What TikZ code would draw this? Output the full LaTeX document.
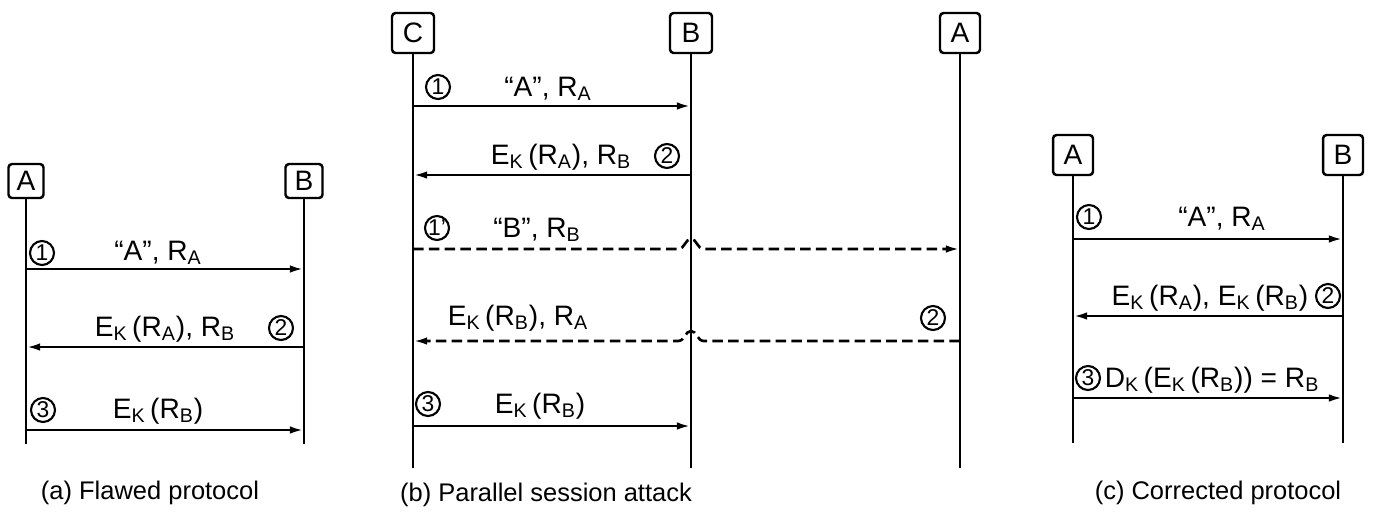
\documentclass[tikz,border=0pt]{standalone}
\usepackage{fontspec}
\setmainfont{Liberation Sans}
\usetikzlibrary{arrows.meta, calc}

\newcommand{\Ek}[1]{E\textsubscript{K}\,(R\textsubscript{#1})}
\newcommand{\Rsub}[1]{R\textsubscript{#1}}

\tikzset{
  party/.style={draw, line width=1.4pt, rounded corners=2pt, inner sep=0pt,
    minimum width=0.8cm, minimum height=0.8cm, font=\fontsize{16}{18}\selectfont},
  life/.style={line width=1.5pt},
  msg/.style={line width=1.5pt, -{Latex[length=8pt,width=4.2pt]}},
  fake/.style={msg, dash pattern=on 6pt off 3pt},
  num/.style={circle, draw, line width=1.2pt, inner sep=0pt,
    minimum size=0.48cm, font=\fontsize{13}{14}\selectfont},
  lbl/.style={font=\fontsize{16}{18}\selectfont, inner sep=1pt},
  capt/.style={font=\fontsize{14.5}{17}\selectfont}
}

\begin{document}
\begin{tikzpicture}[x=0.02cm, y=-0.02cm]
\useasboundingbox (0,0) rectangle (1375,512);

% (a) flawed protocol
\node[party, minimum width=0.7cm, minimum height=0.68cm] (aA) at (26,181) {A};
\node[party, minimum width=0.74cm, minimum height=0.68cm] (aB) at (304,181) {B};
\coordinate (aEnd) at (0,444);
\draw[life] (aA) -- (aA |- aEnd);
\draw[life] (aB) -- (aB |- aEnd);
\foreach \n/\y in {1/269, 2/347, 3/430} \coordinate (ar\n) at (0,\y);
\draw[msg] (aA |- ar1) -- (aB |- ar1);
\draw[msg] (aB |- ar2) -- (aA |- ar2);
\draw[msg] (aA |- ar3) -- (aB |- ar3);
\node[num] (an1) at (42,253) {1};
\node[lbl] (at1) at (158,253) {“A”, \Rsub{A}};
\node[num] (an2) at (281,328) {2};
\node[lbl] (at2) at (165,329) {\Ek{A}, \Rsub{B}};
\node[num] (an3) at (43,410) {3};
\node[lbl] (at3) at (158,411) {\Ek{B}};
\node[capt] (acap) at (150,493) {(a) Flawed protocol};

% (b) parallel session attack
\node[party, minimum width=0.84cm] (bC) at (413,33) {C};
\node[party, minimum width=0.84cm] (bB) at (691,33) {B};
\node[party] (bA) at (960,33) {A};
\coordinate (bEnd) at (0,468);
\draw[life] (bC) -- (bC |- bEnd);
\draw[life] (bB) -- (bB |- bEnd);
\draw[life] (bA) -- (bA |- bEnd);
\foreach \n/\y in {1/106, 2/175, 4/249, 5/341, 3/426} \coordinate (br\n) at (0,\y);
\draw[msg] (bC |- br1) -- (bB |- br1);
\draw[msg] (bB |- br2) -- (bC |- br2);
% replayed messages hop over B's lifeline
\draw[fake] (bC |- br4) -- ($(bB |- br4)+(-13,0)$)
  .. controls +(7,0) and +(-6,0) .. ++(13,-10)
  .. controls +(6,0) and +(-7,0) .. ++(13,10) -- (bA |- br4);
\draw[fake] (bA |- br5) -- ($(bB |- br5)+(13,0)$)
  .. controls +(-7,0) and +(6,0) .. ++(-13,-10)
  .. controls +(-6,0) and +(7,0) .. ++(-13,10) -- (bC |- br5);
\draw[msg] (bC |- br3) -- (bB |- br3);
\node[num] (bn1) at (438,87) {1};
\node[lbl] (bt1) at (548,89) {“A”, \Rsub{A}};
\node[num] (bn2) at (667,156) {2};
\node[lbl] (bt2) at (561,157) {\Ek{A}, \Rsub{B}};
\node[num] (bn4) at (437,228) {1'};
\node[lbl] (bt4) at (537,230) {“B”, \Rsub{B}};
\node[num] (bn5) at (933,318) {2};
\node[lbl] (bt5) at (518,318) {\Ek{B}, \Rsub{A}};
\node[num] (bn3) at (428,404) {3};
\node[lbl] (bt3) at (540,406) {\Ek{B}};
\node[capt] (bcap) at (546,495) {(b) Parallel session attack};

% (c) corrected protocol
\node[party] (cA) at (1073,155) {A};
\node[party] (cB) at (1343,155) {B};
\coordinate (cEnd) at (0,443);
\draw[life] (cA) -- (cA |- cEnd);
\draw[life] (cB) -- (cB |- cEnd);
\foreach \n/\y in {1/239, 2/316, 3/398} \coordinate (cr\n) at (0,\y);
\draw[msg] (cA |- cr1) -- (cB |- cr1);
\draw[msg] (cB |- cr2) -- (cA |- cr2);
\draw[msg] (cA |- cr3) -- (cB |- cr3);
\node[num] (cn1) at (1089,217) {1};
\node[lbl] (ct1) at (1222,219) {“A”, \Rsub{A}};
\node[num] (cn2) at (1328,296) {2};
\node[lbl] (ct2) at (1210,298) {\Ek{A}, \Ek{B}};
\node[num] (cn3) at (1088,378) {3};
\node[lbl] (ct3) at (1212,380) {D\textsubscript{K}\,(\Ek{B}) = \Rsub{B}};
\node[capt] (ccap) at (1218,493) {(c) Corrected protocol};
\end{tikzpicture}
\end{document}
